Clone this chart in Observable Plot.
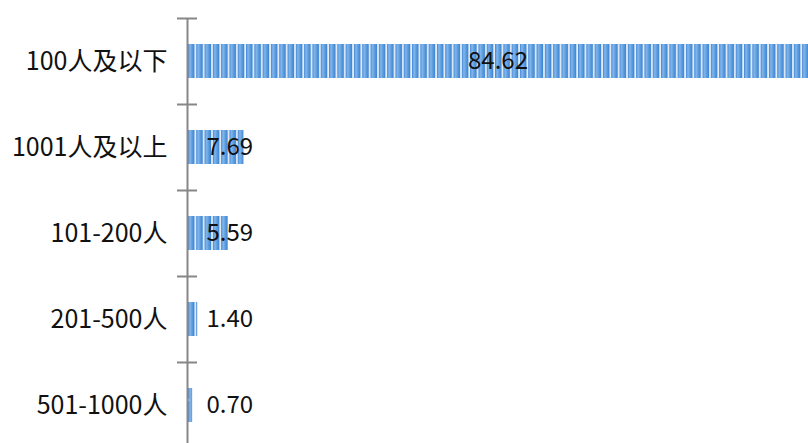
<!DOCTYPE html>
<html>
<head>
<meta charset="utf-8">
<script src="https://cdn.jsdelivr.net/npm/d3@7"></script>
<script src="https://cdn.jsdelivr.net/npm/@observablehq/plot@0.6"></script>
<style>
  html, body { margin: 0; padding: 0; background: #fff; overflow: hidden; }
  #chart svg { display: block; }
</style>
</head>
<body>
<svg width="0" height="0" style="position:absolute">
  <defs>
    <linearGradient id="stripeGrad" x1="0" y1="0" x2="1" y2="0">
      <stop offset="0%" stop-color="#3a80cf"/>
      <stop offset="30%" stop-color="#86b9ec"/>
      <stop offset="60%" stop-color="#5e9fe1"/>
      <stop offset="100%" stop-color="#3c80ce"/>
    </linearGradient>
    <pattern id="stripes" patternUnits="userSpaceOnUse" x="187" y="0" width="8.3" height="200">
      <rect x="0" y="0" width="8.3" height="200" fill="#ffffff"/>
      <rect x="0.8" y="0" width="6.8" height="200" rx="2" fill="url(#stripeGrad)"/>
    </pattern>
  </defs>
</svg>
<div id="chart"></div>
<script>
const categories = ["100人及以下", "1001人及以上", "101-200人", "201-500人", "501-1000人"];
const values = [84.62, 7.69, 5.59, 1.40, 0.70];
const labels = ["84.62", "7.69", "5.59", "1.40", "0.70"];

const data = categories.map((c, i) => ({cat: c, value: values[i], label: labels[i]}));

const W = 808, H = 448, ML = 187;
const xMax = 84.62;
const k = (W - ML) / xMax;
const font = "'Noto Sans CJK SC', 'Open Sans', sans-serif";

const chart = Plot.plot({
  width: W,
  height: H,
  marginLeft: ML,
  marginRight: 0,
  marginTop: 18,
  marginBottom: 0,
  style: {fontFamily: font, background: "#fff", overflow: "hidden"},
  x: {domain: [0, xMax], axis: null},
  y: {domain: categories, paddingInner: 0.6, paddingOuter: 0.3, axis: null},
  marks: [
    Plot.barX(data, {x: "value", y: "cat", fill: "url(#stripes)"}),
    Plot.ruleX([0], {stroke: "#878787", strokeWidth: 2}),
    Plot.ruleY(data, {y: "cat", dy: -43, x1: -10 / k, x2: 10 / k, stroke: "#878787", strokeWidth: 2}),
    Plot.text(data, {y: "cat", x: 0, dx: -20, text: "cat", textAnchor: "end", fontSize: 25, fill: "#111"}),
    Plot.text(data.filter(d => d.value > 20), {y: "cat", x: d => d.value / 2, text: "label", textAnchor: "middle", fontSize: 24, fill: "#111"}),
    Plot.text(data.filter(d => d.value <= 20), {y: "cat", x: 0, dx: 19, text: "label", textAnchor: "start", fontSize: 24, fill: "#111"})
  ]
});
document.getElementById("chart").appendChild(chart);
</script>
</body>
</html>
